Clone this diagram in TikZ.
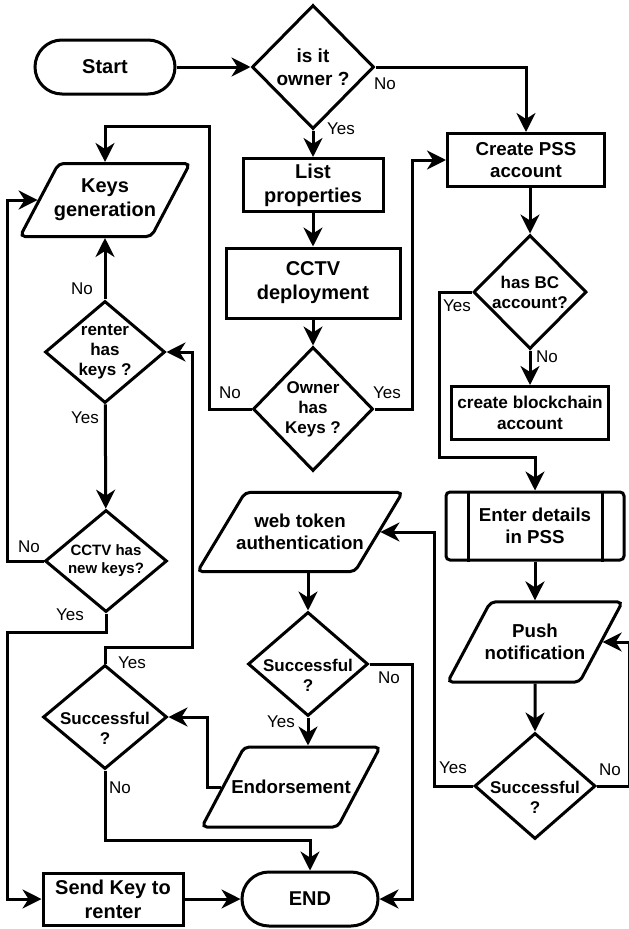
\documentclass[tikz,border=0pt]{standalone}
\usepackage{fontspec}
\setmainfont{Liberation Sans}
\usetikzlibrary{arrows.meta,shapes.geometric,shapes.misc,positioning}

\begin{document}
\begin{tikzpicture}[
    x=1pt, y=1pt,
    line width=3pt,
    base/.style={draw, line width=3pt, align=center, inner sep=0pt, font=\bfseries\fontsize{18.7}{22.5}\selectfont},
    term/.style={base, rounded rectangle, minimum width=140pt, minimum height=54pt, font=\bfseries\fontsize{20}{24}\selectfont},
    proc/.style={base, rectangle, minimum width=157pt, minimum height=53pt},
    io/.style={base, trapezium, trapezium left angle=62, trapezium right angle=118, trapezium stretches=true, rounded corners=5pt, inner ysep=21.5pt, minimum height=80pt},
    decision/.style={base, diamond, inner sep=-12pt, font=\bfseries\fontsize{17}{20}\selectfont},
    big/.style={font=\bfseries\fontsize{20}{24}\selectfont},
    flow/.style={-{Stealth[length=19pt,width=19pt,inset=6pt]}, line width=3pt},
    lbl/.style={font=\fontsize{17}{20}\selectfont, inner sep=0pt}
]
\fill[white] (0,0) rectangle (629,-929);
\useasboundingbox (0,0) rectangle (629,-929);

% middle column
\node[term] (start) at (105,-67) {Start};
\node[decision, minimum width=122pt, minimum height=124pt, font=\bfseries\fontsize{19}{23}\selectfont] (own) at (313,-67) {is it\\owner ?};
\node[proc, big, minimum width=140pt] (list) at (313,-185) {List\\properties};
\node[proc, big, minimum width=174pt, minimum height=70pt] (cctv) at (313,-283) {CCTV\\deployment};
\node[decision, minimum width=120pt, minimum height=124pt] (okeys) at (313,-409) {Owner\\has\\Keys ?};

% right column
\node[proc] (pss) at (526,-160) {Create PSS\\account};
\node[decision, minimum width=113pt, minimum height=114pt] (hasbc) at (530,-292) {has BC\\account?};
\node[proc, font=\bfseries\fontsize{17.2}{21}\selectfont] (bc) at (530,-413) {create blockchain\\account};
\node[proc, minimum width=178pt, minimum height=68pt, rounded corners=4pt] (enter) at (535,-526) {Enter details\\in PSS};
\draw ([xshift=24pt]enter.north west) -- ([xshift=24pt]enter.south west);
\draw ([xshift=-23pt]enter.north east) -- ([xshift=-23pt]enter.south east);
\node[io, minimum width=175pt, inner ysep=22pt, inner xsep=-6pt] (push) at (535,-642) {Push\\notification};
\node[decision, minimum width=121pt, minimum height=106pt] (succ3) at (535,-786) {\strut\\Successful\\?};

% left column
\node[io, big, minimum width=170pt, minimum height=73pt, inner ysep=15pt, inner xsep=-5pt] (keys) at (105,-200) {Keys\\generation};
\node[decision, minimum width=120pt, minimum height=102pt] (rk) at (105,-352) {renter\\has\\keys ?};
\node[decision, minimum width=122pt, minimum height=102pt, font=\bfseries\fontsize{15}{18}\selectfont] (nk) at (106,-561) {CCTV has\\new keys?};
\node[decision, minimum width=124pt, minimum height=104pt] (succ1) at (105,-717) {\strut\\Successful\\?};
\node[proc, big, minimum width=140pt, minimum height=52pt] (send) at (113,-899) {Send Key to\\renter};

% bottom middle
\node[io, minimum width=205pt, minimum height=79pt, inner xsep=-9pt, trapezium left angle=59, trapezium right angle=121] (wt) at (300,-532) {web token\\authentication};
\node[decision, minimum width=120pt, minimum height=104pt] (succ2) at (308,-664) {\strut\\Successful\\?};
\node[io, minimum width=177pt, inner ysep=33pt, inner xsep=-13pt] (endo) at (291,-787) {Endorsement};
\node[term, minimum width=136pt] (endn) at (310,-899) {END};

% connectors
\draw[flow] (start.east) -- (own.west);
\draw[flow] (own.east) -| (pss.north);
\draw[flow] (own.south) -- (list.north);
\draw[flow] (list) -- (cctv);
\draw[flow] (cctv) -- (okeys);
\draw[flow] (okeys.east) -- ++(38,0) |- (pss.west);
\draw[flow] (okeys.west) -| (209,-126) -| (keys.north);
\draw[flow] (pss.south -| hasbc.north) -- (hasbc.north);
\draw[flow] (hasbc.south) -- (bc.north);
\draw[flow] (hasbc.west) -| (439,-457) -| (enter.north);
\draw[flow] (enter) -- (push);
\draw[flow] (push) -- (succ3);
\draw[flow] (succ3.east) -- ++(32,0) |- (push.east);
\draw[flow] (succ3.west) -- ++(-39,0) |- (wt.east);
\draw[flow] (wt.south -| succ2.north) -- (succ2.north);
\draw[flow] (succ2.south) -- (succ2.south |- endo.north);
\draw[flow] (succ2.east) -- ++(43,0) |- (endn.east);
\draw[flow] (endo.west) -- ++(-14,0) |- (succ1.east);
\draw[flow] (succ1.north) |- (192,-647) |- (rk.east);
\draw[flow] (succ1.south) -- ++(0,-70) -| (endn.north);
\draw[flow] (send) -- (endn);
\draw[flow] (rk) -- (keys);
\draw[flow] (rk) -- (nk);
\draw[flow] (nk.west) -- ++(-36,0) |- (keys.west);
\draw[flow] (nk.south) -- ++(0,-19) -| ([xshift=-34pt]send.west) -- (send.west);

% branch labels
\node[lbl] (ownno) at (385,-84) {No};
\node[lbl] (ownyes) at (341,-129) {Yes};
\node[lbl] (okno) at (230,-393) {No};
\node[lbl] (okyes) at (387,-393) {Yes};
\node[lbl] (bcyes) at (457,-306) {Yes};
\node[lbl] (bcno) at (547,-357) {No};
\node[lbl] (rkno) at (82,-289) {No};
\node[lbl] (rkyes) at (85,-418) {Yes};
\node[lbl] (nkno) at (29,-547) {No};
\node[lbl] (nkyes) at (70,-615) {Yes};
\node[lbl] (s1yes) at (132,-663) {Yes};
\node[lbl] (s1no) at (120,-788) {No};
\node[lbl] (s2no) at (389,-678) {No};
\node[lbl] (s2yes) at (281,-722) {Yes};
\node[lbl] (s3yes) at (453,-768) {Yes};
\node[lbl] (s3no) at (610,-770) {No};
\end{tikzpicture}
\end{document}
